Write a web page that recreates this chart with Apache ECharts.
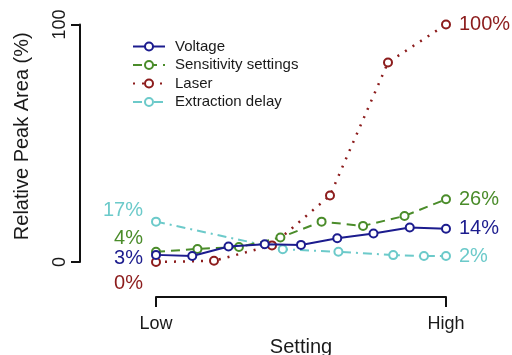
<!DOCTYPE html>
<html><head><meta charset="utf-8">
<script src="https://cdn.jsdelivr.net/npm/echarts@6/dist/echarts.min.js"></script>
<style>html,body{margin:0;padding:0;background:#fff}#c{width:512px;height:355px}</style>
</head><body><div id="c"></div>
<script>
// ---- data ----
const seriesNames = ['Voltage', 'Sensitivity settings', 'Laser', 'Extraction delay'];
const xTickLabels = ['Low', 'High'];
const yTicks = [0, 100];

const voltageX = [0, 0.125, 0.25, 0.375, 0.5, 0.625, 0.75, 0.875, 1];
const voltageY = [3, 2.5, 6.5, 7.5, 7.2, 10, 12, 14.5, 14];

const sensitivityX = [0, 0.143, 0.286, 0.429, 0.571, 0.714, 0.857, 1];
const sensitivityY = [4.3, 5.5, 6.3, 10.3, 17, 15.2, 19.4, 26.4];

const laserX = [0, 0.2, 0.4, 0.6, 0.8, 1];
const laserY = [0, 0.5, 7, 28, 84, 100];

const delayX = [0, 0.437, 0.629, 0.818, 0.924, 1];
const delayY = [17, 5.4, 4.3, 2.9, 2.5, 2.5];

const startLabels = ['3%', '4%', '0%', '17%'];
const endLabels = ['14%', '26%', '100%', '2%'];

// ---- styling ----
const FONT = '"Liberation Sans", Arial, Helvetica, sans-serif';
const colors = ['#1c1c8e', '#4a8c2a', '#8c1c1c', '#6ccaca'];
const dashes = ['solid', [9, 6], [2, 7], [9, 5, 2, 5]];
const widths = [2, 2, 2.5, 2];
const startDy = [4, -13, 21, -11];

const xs = [voltageX, sensitivityX, laserX, delayX];
const ys = [voltageY, sensitivityY, laserY, delayY];

const series = seriesNames.map((name, k) => ({
  name: name,
  type: 'line',
  color: colors[k],
  symbol: 'emptyCircle',
  symbolSize: 8,
  z: 10 - k,
  lineStyle: { color: colors[k], width: widths[k], type: dashes[k] },
  itemStyle: { color: colors[k], borderWidth: 2 },
  label: { show: false, color: colors[k], fontSize: 20, fontFamily: FONT },
  emphasis: { disabled: true },
  data: xs[k].map((x, i) => {
    const d = { value: [x, ys[k][i]] };
    if (i === 0) d.label = { show: true, position: 'left', distance: 8, offset: [0, startDy[k]], formatter: startLabels[k] };
    if (i === xs[k].length - 1) d.label = { show: true, position: 'right', distance: 8, formatter: endLabels[k] };
    return d;
  })
}));

const chart = echarts.init(document.getElementById('c'), null, { renderer: 'canvas' });
chart.setOption({
  animation: false,
  backgroundColor: '#fff',
  textStyle: { fontFamily: FONT },
  grid: { left: 156, right: 66, top: 24.5, bottom: 93, containLabel: false, outerBoundsMode: 'none' },
  legend: {
    orient: 'vertical', left: 127, top: 34,
    itemWidth: 32, itemHeight: 10, itemGap: 3.5,
    data: seriesNames,
    textStyle: { fontSize: 15, color: '#1a1a1a', fontFamily: FONT, padding: [0, 0, 0, 5] }
  },
  xAxis: {
    type: 'value', min: 0, max: 1, interval: 1, offset: 35,
    axisLine: { show: true, onZero: false, lineStyle: { color: '#111', width: 2 } },
    axisTick: { show: true, length: 10, lineStyle: { color: '#111', width: 2 } },
    splitLine: { show: false },
    axisLabel: { formatter: v => xTickLabels[Math.round(v)], fontSize: 18, color: '#1a1a1a', margin: 18, fontFamily: FONT },
    name: 'Setting', nameLocation: 'middle', nameGap: 38,
    nameTextStyle: { fontSize: 20, color: '#1a1a1a', fontFamily: FONT }
  },
  yAxis: {
    type: 'value', min: yTicks[0], max: yTicks[1], interval: yTicks[1] - yTicks[0], offset: 76,
    axisLine: { show: true, onZero: false, lineStyle: { color: '#111', width: 2 } },
    axisTick: { show: true, length: 9, lineStyle: { color: '#111', width: 2 } },
    splitLine: { show: false },
    axisLabel: { rotate: 90, fontSize: 18, color: '#1a1a1a', margin: 11, fontFamily: FONT },
    name: 'Relative Peak Area (%)', nameLocation: 'middle', nameGap: 48,
    nameTextStyle: { fontSize: 20, color: '#1a1a1a', fontFamily: FONT, padding: [0, 0, 0, 14] }
  },
  series: series
});
</script>
</body></html>
